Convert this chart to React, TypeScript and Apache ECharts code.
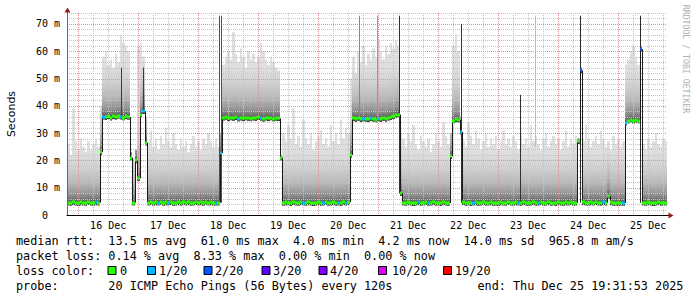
import React, { useEffect, useRef } from "react";
import * as echarts from "echarts";

// time axis: hours since 15 Dec 00:00; window = 10 days ending Thu Dec 25 19:31:53
const START = 19.53;
const END = 259.53;
const Y_MAX = 74;

const xLabelHours = [36, 60, 84, 108, 132, 156, 180, 204, 228, 252];
const xLabels = ["16 Dec", "17 Dec", "18 Dec", "19 Dec", "20 Dec", "21 Dec", "22 Dec", "23 Dec", "24 Dec", "25 Dec"];
const yLabelValues = [0, 10, 20, 30, 40, 50, 60, 70];
const yLabels = ["0\u00a0\u00a0", "10 m", "20 m", "30 m", "40 m", "50 m", "60 m", "70 m"];

const xMajorGrid = [24, 48, 72, 96, 120, 144, 168, 192, 216, 240];
const xMinorGrid = [30, 36, 42, 54, 60, 66, 78, 84, 90, 102, 108, 114, 126, 132, 138, 150, 156, 162, 174, 180, 186, 198, 204, 210, 222, 228, 234, 246, 252, 258];
const yMajorGrid = [10, 20, 30, 40, 50, 60, 70];
const yMinorGrid = [2, 4, 6, 8, 12, 14, 16, 18, 22, 24, 26, 28, 32, 34, 36, 38, 42, 44, 46, 48, 52, 54, 56, 58, 62, 64, 66, 68, 72, 74];

// hourly median RTT (ms), one value per hour after START
const medianRtt = [
  4.5, 4.4, 4.6, 4.5, 4.3, 4.6, 4.5, 4.4, 4.7, 4.5, 4.4, 4.6, 4.5, 23, 36.0, 35.8, 36.2, 35.6, 36.1, 35.9, 36.3, 36.0, 35.7, 36.2,
  35.9, 21, 4.5, 20, 13.5, 36.5, 38, 26.5, 4.5, 4.7, 4.4, 4.6, 4.5, 4.8, 4.4, 4.6, 4.5, 4.7, 4.4, 4.5, 4.6, 4.4, 4.7, 4.5,
  4.6, 4.4, 4.5, 4.7, 4.5, 4.6, 4.4, 4.8, 4.5, 4.6, 4.4, 4.5, 4.5, 22.7, 35.6, 35.9, 35.4, 35.7, 35.5, 35.8, 35.3, 35.6, 35.4, 35.7,
  35.5, 35.3, 35.6, 35.4, 35.8, 35.5, 35.2, 35.6, 35.4, 35.7, 35.3, 35.5, 35.4, 21, 4.4, 4.6, 4.5, 4.3, 4.6, 4.5, 4.4, 4.7, 4.5, 4.4,
  4.6, 4.5, 4.3, 4.5, 4.6, 4.4, 4.5, 4.7, 4.4, 4.5, 4.6, 4.4, 4.5, 4.3, 4.6, 4.5, 4.7, 22, 35.4, 35.1, 35.5, 35.0, 35.3, 35.2,
  35.0, 35.4, 35.2, 34.9, 35.3, 35.1, 35.5, 35.2, 35.6, 35.8, 36.2, 36.5, 36.8, 8, 4.5, 4.4, 4.6, 4.5, 4.3, 4.5, 4.6, 4.4, 4.5, 4.7,
  4.4, 4.5, 4.6, 4.4, 4.5, 4.3, 4.6, 4.5, 4.4, 21.5, 34.6, 35.0, 34.8, 30.5, 4.6, 4.4, 4.5, 4.3, 4.5, 4.6, 4.4, 4.5, 4.7, 4.4,
  4.5, 4.6, 4.4, 4.5, 4.3, 4.6, 4.5, 4.4, 4.7, 4.5, 4.4, 4.6, 4.5, 4.4, 4.6, 4.5, 4.3, 4.5, 4.6, 4.4, 4.5, 4.7, 4.4, 4.5,
  4.6, 4.4, 4.5, 4.3, 4.6, 4.5, 4.4, 4.6, 4.5, 4.7, 4.4, 4.5, 27, 53, 4.6, 4.5, 4.4, 4.6, 4.5, 4.7, 4.5, 4.4, 4.6, 4.5,
  7.0, 4.6, 4.4, 4.5, 4.3, 4.5, 4.4, 33.8, 34.6, 34.9, 34.5, 34.8, 34.6, 60.7, 4.5, 4.4, 4.6, 4.5, 4.3, 4.5, 4.6, 4.4, 4.5, 4.5,
];

// hourly top of the smoke (highest ping, ms)
const smokeTop = [
  26, 22, 39, 27, 24, 28, 25, 23, 27, 24, 26, 28, 25, 40, 58, 60, 55, 57, 54, 59, 56, 66, 63, 62,
  60, 23, 21, 24, 62, 63, 58, 36, 27, 31, 25, 28, 24, 29, 26, 32, 27, 25, 30, 26, 24, 28, 25, 27,
  23, 26, 29, 25, 27, 24, 28, 26, 30, 27, 25, 28, 25, 30, 55, 58, 60, 57, 67, 59, 56, 61, 58, 54,
  60, 57, 59, 56, 58, 63, 60, 57, 55, 58, 56, 54, 53, 22, 30, 27, 33, 28, 39, 26, 29, 25, 35, 28,
  26, 30, 24, 27, 29, 31, 26, 28, 25, 33, 27, 30, 26, 35, 28, 32, 30, 50, 58, 52, 60, 56, 62, 55,
  59, 57, 61, 58, 64, 60, 57, 62, 59, 63, 61, 64, 62, 30, 28, 25, 30, 27, 33, 26, 24, 29, 27, 25,
  28, 23, 26, 30, 27, 25, 34, 29, 26, 30, 62, 66, 60, 36, 27, 25, 34, 29, 26, 31, 28, 24, 27, 30,
  25, 28, 26, 29, 24, 27, 31, 26, 28, 25, 29, 27, 24, 30, 26, 28, 25, 33, 27, 29, 26, 24, 28, 30,
  25, 27, 29, 26, 28, 24, 27, 31, 25, 28, 26, 29, 28, 54, 27, 33, 28, 25, 27, 29, 26, 31, 28, 25,
  27, 24, 29, 26, 28, 25, 27, 55, 57, 60, 62, 58, 55, 62, 26, 24, 28, 25, 27, 30, 26, 25, 28, 27,
];

// hours (after START) that lost pings, and how many of 20
const lossHour = [11, 14, 21, 30, 36, 40, 59, 61, 68, 77, 94, 102, 108, 111, 118, 121, 124, 140, 144, 157, 162, 180, 188, 205, 214, 222, 223, 229];
const lossCount = [1, 1, 1, 1, 1, 1, 1, 1, 1, 1, 1, 1, 1, 1, 1, 1, 1, 1, 1, 1, 1, 1, 1, 2, 1, 1, 1, 2];

// isolated tall pings: position (hours after START), from/to (ms), shade
const spikePos = [21.7, 30.3, 60.6, 61.4, 116.9, 123.9, 132.9, 157.6, 181.3, 187.1, 205.3, 229.3];
const spikeFrom = [36, 37, 4.5, 4.5, 35, 36, 8, 4.5, 4.5, 25, 4.5, 4.5];
const spikeTo = [54, 54, 73, 73, 73, 73, 73, 70, 44, 73, 73, 73];
const spikeShade = ["#3a3a3a", "#3a3a3a", "#505050", "#505050", "#888888", "#9a9a9a", "#303030", "#303030", "#303030", "#bbbbbb", "#2a2a2a", "#2a2a2a"];

const lossSteps = [0, 1, 2, 3, 4, 10, 19];
const lossColors = ["#26ff00", "#00b8ff", "#0059ff", "#5e00ff", "#7e00ff", "#dd00ff", "#ff0000"];
const lossLabels = ["0", "1/20", "2/20", "3/20", "4/20", "10/20", "19/20"];

const statsLines = [
  "median rtt:  13.5 ms avg  61.0 ms max  4.0 ms min  4.2 ms now  14.0 ms sd  965.8 m am/s",
  "packet loss: 0.14 % avg  8.33 % max  0.00 % min  0.00 % now",
];
const probeText = "probe:       20 ICMP Echo Pings (56 Bytes) every 120s";
const endText = "end: Thu Dec 25 19:31:53 2025";

const MONO = '"DejaVu Sans Mono", monospace';

function lossColor(n: number) {
  let idx = 0;
  for (let k = 0; k < lossSteps.length; k++) if (n >= lossSteps[k]) idx = k;
  return lossColors[idx];
}

function buildOption() {
  const lossByHour = medianRtt.map(() => 0);
  lossHour.forEach((h, k) => (lossByHour[h] = lossCount[k]));

  const smokeStops = [
    { offset: 0, color: "#3a3a3a" },
    { offset: 0.06, color: "#5c5c5c" },
    { offset: 0.18, color: "#8e8e8e" },
    { offset: 0.4, color: "#b6b6b6" },
    { offset: 0.7, color: "#d2d2d2" },
    { offset: 1, color: "#dfdfdf" },
  ];

  const gridLine = (values: number[], vertical: boolean, color: string) => ({
    type: "custom",
    z: 3,
    silent: true,
    data: values.map((v) => (vertical ? [v, 0] : [START, v])),
    renderItem: (params: any, api: any) => {
      const cs = params.coordSys;
      if (vertical) {
        const x = Math.round(api.coord([api.value(0), 0])[0]) + 0.5;
        return { type: "line", shape: { x1: x, y1: cs.y, x2: x, y2: cs.y + cs.height }, style: { stroke: color, lineWidth: 1, lineDash: [1, 1] } };
      }
      const y = Math.round(api.coord([START, api.value(1)])[1]) + 0.5;
      return { type: "line", shape: { x1: cs.x, y1: y, x2: cs.x + cs.width, y2: y }, style: { stroke: color, lineWidth: 1, lineDash: [1, 1] } };
    },
  });

  const legendBoxX = [107.5, 147, 203.5, 261.5, 318.5, 378, 443];
  const legendLabelX = [120, 159, 215, 273, 330, 392, 455];

  const txt = (text: string, x: number, y: number, extra: any = {}) => ({
    type: "text",
    x,
    y,
    silent: true,
    style: { text, fill: "#000", font: `11.8px ${MONO}`, align: "left", verticalAlign: "middle", textAlign: "left", textVerticalAlign: "middle", ...extra },
  });

  const graphic: any[] = [
    { type: "line", silent: true, shape: { x1: 67.5, y1: 13, x2: 67.5, y2: 10 }, style: { stroke: "#666", lineWidth: 1 } },
    { type: "polygon", silent: true, shape: { points: [[64.5, 12.5], [70.5, 12.5], [67.5, 7.5]] }, style: { fill: "#a01818" } },
    { type: "line", silent: true, shape: { x1: 667, y1: 215.5, x2: 669, y2: 215.5 }, style: { stroke: "#000", lineWidth: 1 } },
    { type: "polygon", silent: true, shape: { points: [[668.5, 212.5], [668.5, 218.5], [673.5, 215.5]] }, style: { fill: "#a01818" } },
    {
      type: "text", x: 11.5, y: 114, rotation: Math.PI / 2, silent: true,
      style: { text: "Seconds", fill: "#000", font: '11px "DejaVu Sans", sans-serif', align: "center", verticalAlign: "middle", textAlign: "center", textVerticalAlign: "middle" },
    },
    {
      type: "text", x: 686, y: 59, rotation: -Math.PI / 2, silent: true,
      style: { text: "RRDTOOL / TOBI OETIKER", fill: "#b0b0b0", font: `8.2px ${MONO}`, align: "center", verticalAlign: "middle", textAlign: "center", textVerticalAlign: "middle" },
    },
    txt(statsLines[0], 16, 241),
    txt(statsLines[1], 16, 256),
    txt("loss color:", 16, 271),
    txt(probeText, 16, 286),
    txt(endText, 477.5, 286),
  ];
  lossColors.forEach((c, k) => {
    graphic.push({ type: "rect", silent: true, shape: { x: legendBoxX[k] + 0.5, y: 266.5, width: 8, height: 8 }, style: { fill: c, stroke: "#000", lineWidth: 1 } });
    graphic.push(txt(lossLabels[k], legendLabelX[k], 271));
  });

  return {
    animation: false,
    backgroundColor: "#ffffff",
    grid: { left: 67, right: 30, top: 13, bottom: 82, containLabel: false },
    xAxis: {
      type: "value",
      min: START,
      max: END,
      z: 10,
      axisLine: { show: true, lineStyle: { color: "#000", width: 1 } },
      axisTick: { show: false },
      splitLine: { show: false },
      axisLabel: {
        customValues: xLabelHours,
        formatter: (v: number) => xLabels[xLabelHours.indexOf(v)] ?? "",
        color: "#000",
        fontFamily: MONO,
        fontSize: 10,
        margin: 5,
      },
    },
    yAxis: {
      type: "value",
      min: 0,
      max: Y_MAX,
      z: 10,
      axisLine: { show: true, lineStyle: { color: "#666", width: 1 } },
      axisTick: { show: false },
      splitLine: { show: false },
      axisLabel: {
        customValues: yLabelValues,
        formatter: (v: number) => yLabels[yLabelValues.indexOf(v)] ?? "",
        color: "#000",
        fontFamily: MONO,
        fontSize: 10,
        margin: 7,
      },
    },
    graphic,
    series: [
      {
        type: "custom",
        z: 2,
        silent: true,
        data: medianRtt.map((m, i) => [i, m - 1, smokeTop[i]]),
        renderItem: (params: any, api: any) => {
          const i = api.value(0);
          const lo = api.value(1);
          const top = api.value(2);
          const p0 = api.coord([START + i, lo]);
          const p1 = api.coord([START + i + 1, top]);
          const ref = api.coord([START + i, lo + 20]);
          const x0 = Math.round(p0[0]);
          const x1 = Math.round(p1[0]);
          return {
            type: "rect",
            shape: { x: x0, y: p1[1], width: x1 - x0, height: p0[1] - p1[1] },
            style: { fill: new echarts.graphic.LinearGradient(x0, p0[1], x0, ref[1], smokeStops, true) },
          };
        },
      },
      gridLine(yMinorGrid, false, "#c4c4c4"),
      gridLine(xMinorGrid, true, "#c4c4c4"),
      gridLine(yMajorGrid, false, "#e29090"),
      gridLine(xMajorGrid, true, "#e29090"),
      {
        type: "custom",
        z: 4,
        silent: true,
        data: spikePos.map((p, k) => [START + p, spikeFrom[k], spikeTo[k]]),
        renderItem: (params: any, api: any) => {
          const a = api.coord([api.value(0), api.value(1)]);
          const b = api.coord([api.value(0), api.value(2)]);
          const x = Math.round(a[0]) + 0.5;
          return { type: "line", shape: { x1: x, y1: a[1], x2: x, y2: b[1] }, style: { stroke: spikeShade[params.dataIndex], lineWidth: 1 } };
        },
      },
      {
        type: "custom",
        z: 5,
        silent: true,
        data: medianRtt.map((m, i) => [i, m, lossByHour[i]]),
        renderItem: (params: any, api: any) => {
          const i = api.value(0);
          const m = api.value(1);
          const loss = api.value(2);
          const p0 = api.coord([START + i, m]);
          const p1 = api.coord([START + i + 1, m]);
          const x0 = Math.round(p0[0]);
          const x1 = Math.round(p1[0]);
          const children: any[] = [];
          if (i > 0) {
            const prev = medianRtt[i - 1];
            if (Math.abs(prev - m) > 1.5) {
              const py = api.coord([START + i, prev])[1];
              children.push({ type: "line", shape: { x1: x0 + 0.5, y1: py, x2: x0 + 0.5, y2: p0[1] }, style: { stroke: "#1a1a1a", lineWidth: 1 } });
            }
          }
          children.push({ type: "rect", shape: { x: x0, y: Math.round(p0[1]) - 1.5, width: x1 - x0, height: 3 }, style: { fill: lossColor(loss) } });
          return { type: "group", children };
        },
      },
    ],
  };
}

export default function App() {
  const ref = useRef<HTMLDivElement>(null);
  useEffect(() => {
    if (!ref.current) return;
    const chart = echarts.init(ref.current, null, { renderer: "svg" });
    chart.setOption(buildOption() as any);
    return () => chart.dispose();
  }, []);
  return <div ref={ref} style={{ position: "absolute", left: 0, top: 0, width: 697, height: 297, background: "#fff" }} />;
}
